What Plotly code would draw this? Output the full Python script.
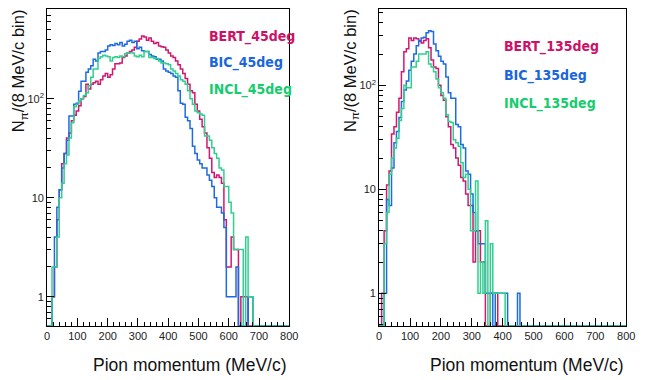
import plotly.graph_objects as go

# ---------------- data (counts per 8 MeV/c bin, bins start at 0) ----------------
BIN_WIDTH = 8
N_BINS = 100

bert_45 = [0, 0, 1, 2, 6, 12, 22, 28, 40, 45, 60, 68, 75, 85, 100, 105, 140, 125, 140, 145,
           150, 140, 155, 170, 180, 165, 175, 200, 225, 225, 230, 260, 270, 290, 300, 310, 330, 380, 400, 430,
           420, 390, 410, 380, 360, 370, 340, 335, 330, 310, 290, 270, 260, 240, 220, 200, 180, 160, 140, 120,
           115, 88, 75, 62, 52, 45, 32, 25, 18, 16, 17, 16, 14, 6, 2, 2, 4, 3, 3, 0,
           1, 1, 1]
bic_45 = [0, 0, 1, 4, 8, 12, 20, 28, 38, 67, 67, 88, 90, 119, 150, 150, 185, 200, 215, 250,
          240, 290, 300, 300, 310, 340, 350, 345, 360, 350, 370, 340, 355, 380, 390, 370, 380, 320, 330, 305,
          300, 300, 280, 270, 265, 250, 250, 240, 200, 190, 185, 180, 170, 165, 120, 90, 88, 65, 60, 50,
          33, 28, 24, 22, 20, 20, 17, 15, 13, 10, 8, 8, 7, 5, 1, 1, 1, 1, 2, 0,
          0, 0, 0, 1, 1]
incl_45 = [0, 0, 2, 2, 4, 10, 14, 22, 27, 40, 57, 83, 88, 95, 100, 108, 115, 135, 165, 200,
           200, 255, 265, 275, 270, 265, 240, 260, 265, 260, 270, 265, 285, 290, 290, 290, 270, 265, 275, 265,
           300, 300, 260, 260, 255, 255, 240, 230, 230, 225, 220, 200, 190, 180, 170, 155, 150, 140, 120, 100,
           88, 75, 72, 70, 68, 42, 42, 38, 32, 28, 25, 20, 19, 13, 13, 9, 7, 3, 3, 3,
           3, 0, 4, 1, 1]

bert_135 = [0, 1, 4, 11, 15, 34, 40, 55, 75, 135, 210, 225, 285, 270, 285, 280, 265, 255, 270, 280,
            230, 175, 150, 145, 100, 80, 72, 50, 40, 27, 25, 20, 17, 13, 12, 9, 7, 7, 2, 4,
            4, 2, 2, 0, 0, 1, 1, 1]
bic_135 = [0, 0, 1, 8, 7, 16, 28, 36, 49, 70, 90, 110, 140, 170, 200, 240, 270, 285, 290, 320,
           335, 330, 250, 215, 190, 170, 160, 120, 85, 75, 75, 42, 40, 27, 25, 15, 14, 9, 6, 4,
           3, 3, 3, 1, 1, 1, 0, 1, 1, 1, 1, 1, 0, 0, 0, 0, 1]
incl_135 = [0, 0, 3, 6, 14, 20, 25, 31, 46, 60, 100, 95, 95, 150, 150, 170, 200, 200, 200, 210,
            160, 150, 135, 115, 95, 85, 75, 52, 45, 44, 30, 28, 26, 18, 13, 14, 10, 4, 4, 12,
            1, 2, 1, 5, 0, 3, 1, 1, 1, 1, 1]

x_ticks = [0, 100, 200, 300, 400, 500, 600, 700, 800]
y_ticks = [1, 10, 100]
y_ticktext = ["1", "10", "10<sup>2</sup>"]

labels_45 = ["BERT_45deg", "BIC_45deg", "INCL_45deg"]
labels_135 = ["BERT_135deg", "BIC_135deg", "INCL_135deg"]

# ---------------- style ----------------
W, H = 645, 380
LINE_COLORS = ["#d3166f", "#1d6be3", "#2ed08e"]
TEXT_COLORS = ["#cc1166", "#1a66dd", "#16cc6e"]
FONT = "Liberation Sans, Arial, sans-serif"
NARROW = "Liberation Sans Narrow, DejaVu Sans Condensed, Liberation Sans, sans-serif"

yrange_left = [-0.296, 2.906]
yrange_right = [-0.314, 2.734]


def px_x(p):
    return p / W


def px_y(p):
    return 1 - p / H


def step_xy(values, floor):
    vals = list(values) + [0] * (N_BINS - len(values))
    ys = [v if v > 0 else floor for v in vals]
    xs = [i * BIN_WIDTH for i in range(N_BINS)] + [N_BINS * BIN_WIDTH]
    ys = ys + [ys[-1]]
    return xs, ys


fig = go.Figure()

floor_l = 10 ** yrange_left[0]
floor_r = 10 ** yrange_right[0]
for vals, col in zip([bert_45, bic_45, incl_45], LINE_COLORS):
    xs, ys = step_xy(vals, floor_l)
    fig.add_trace(go.Scatter(x=xs, y=ys, mode="lines", line=dict(color=col, width=1.5, shape="hv"),
                             xaxis="x", yaxis="y", showlegend=False, hoverinfo="skip"))
for vals, col in zip([bert_135, bic_135, incl_135], LINE_COLORS):
    xs, ys = step_xy(vals, floor_r)
    fig.add_trace(go.Scatter(x=xs, y=ys, mode="lines", line=dict(color=col, width=1.5, shape="hv"),
                             xaxis="x2", yaxis="y2", showlegend=False, hoverinfo="skip"))

minor_vals = [m * 10 ** e for e in range(-1, 3) for m in range(2, 10)]

common_x = dict(range=[0, 800], tickvals=x_ticks, ticks="inside", ticklen=8, tickwidth=1,
                tickcolor="black", showline=True, linecolor="black", linewidth=1, mirror=True,
                showgrid=False, zeroline=False,
                tickfont=dict(family=FONT, size=11, color="#222"),
                minor=dict(ticks="inside", ticklen=4, dtick=20, tickcolor="black", showgrid=False))
common_y = dict(type="log", tickvals=y_ticks, ticktext=y_ticktext, ticks="inside", ticklen=7,
                tickwidth=1, tickcolor="black", showline=True, linecolor="black", linewidth=1,
                mirror=True, showgrid=False, zeroline=False,
                tickfont=dict(family=FONT, size=11, color="#222"),
                minor=dict(ticks="inside", ticklen=4, tickvals=minor_vals, tickcolor="black",
                           showgrid=False))

y_dom = [px_y(326), px_y(9)]
fig.update_layout(
    width=W, height=H, margin=dict(l=0, r=0, t=0, b=0),
    paper_bgcolor="white", plot_bgcolor="white",
    xaxis=dict(domain=[px_x(45), px_x(291.7)], anchor="y", **common_x),
    yaxis=dict(domain=y_dom, anchor="x", range=yrange_left, **common_y),
    xaxis2=dict(domain=[px_x(383.3), px_x(635)], anchor="y2", **common_x),
    yaxis2=dict(domain=y_dom, anchor="x2", range=yrange_right, **common_y),
)

ann = []
# legend-like labels
for lab, col, yy in zip(labels_45, TEXT_COLORS, [37, 63, 90]):
    ann.append(dict(text=f"<b>{lab}</b>", x=px_x(208), y=px_y(yy), xref="paper", yref="paper",
                    xanchor="left", yanchor="middle", showarrow=False,
                    font=dict(family=NARROW, size=14, color=col)))
for lab, col, yy in zip(labels_135, TEXT_COLORS, [46, 75, 103]):
    ann.append(dict(text=f"<b>{lab}</b>", x=px_x(508), y=px_y(yy), xref="paper", yref="paper",
                    xanchor="left", yanchor="middle", showarrow=False,
                    font=dict(family=NARROW, size=14, color=col)))
# axis titles
for xr in [291.7, 635]:
    ann.append(dict(text="Pion momentum (MeV/c)", x=px_x(xr), y=px_y(365), xref="paper", yref="paper",
                    xanchor="right", yanchor="middle", showarrow=False,
                    font=dict(family=FONT, size=17.5, color="#111")))
for xc in [17, 355]:
    ann.append(dict(text="N<sub>π</sub>/(8 MeV/c bin)", x=px_x(xc), y=px_y(7), xref="paper", yref="paper",
                    xanchor="center", yanchor="top", textangle=-90, showarrow=False,
                    font=dict(family=FONT, size=16.5, color="#111")))
fig.update_layout(annotations=ann)

fig.write_html("out.html")
